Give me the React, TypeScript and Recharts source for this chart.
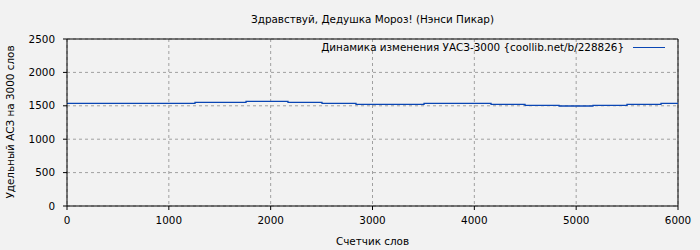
import { CartesianGrid, Line, LineChart, ReferenceLine, XAxis, YAxis } from "recharts";

// word counter positions where the value changes, and the value from there on
const wordCounts = [0, 1257, 1758, 2170, 2504, 2838, 3506, 4164, 4498, 4832, 5165, 5499, 5833, 6000];
const uaszValues = [1537, 1552, 1567, 1552, 1537, 1522, 1537, 1522, 1507, 1497, 1507, 1522, 1537, 1537];
const xTicks = [0, 1000, 2000, 3000, 4000, 5000, 6000];
const yTicks = [0, 500, 1000, 1500, 2000, 2500];

const title = "Здравствуй, Дедушка Мороз! (Нэнси Пикар)";
const xLabel = "Счетчик слов";
const yLabel = "Удельный АСЗ на 3000 слов";
const legendLabel = "Динамика изменения УАСЗ-3000 {coollib.net/b/228826}";

const LINE_COLOR = "#0a46b4";
const FONT = "'DejaVu Sans', sans-serif";
const FS = 10.4;

const data = wordCounts.map((w, i) => ({ words: w, value: uaszValues[i] }));

export default function App() {
  const tickStyle = { fontSize: FS, fill: "#000", fontFamily: FONT };
  return (
    <div
      style={{
        position: "absolute",
        left: 0,
        top: 0,
        width: 700,
        height: 250,
        background: "#f2f2f2",
        fontFamily: FONT,
        fontSize: FS,
        color: "#000"
      }}
    >
      <LineChart width={700} height={250} data={data} margin={{ top: 39, right: 22, bottom: 0, left: 27 }}>
        <CartesianGrid stroke="#a0a0a0" strokeDasharray="3 3" />
        <XAxis
          dataKey="words"
          type="number"
          domain={[0, 6000]}
          ticks={xTicks}
          height={44}
          stroke="#000"
          tickSize={4}
          tickMargin={7}
          tick={tickStyle}
          interval={0}
        />
        <YAxis
          type="number"
          domain={[0, 2500]}
          ticks={yTicks}
          width={40}
          stroke="#000"
          tickSize={4}
          tickMargin={8}
          tick={tickStyle}
          interval={0}
        />
        <ReferenceLine y={2500} stroke="#000" />
        <ReferenceLine x={6000} stroke="#000" />
        <Line
          type="stepAfter"
          dataKey="value"
          stroke={LINE_COLOR}
          strokeWidth={1.3}
          dot={false}
          isAnimationActive={false}
        />
      </LineChart>
      <div style={{ position: "absolute", left: 0, width: 745, top: 12, textAlign: "center", lineHeight: "14px" }}>
        {title}
      </div>
      <div style={{ position: "absolute", left: 0, width: 745, top: 234, textAlign: "center", lineHeight: "14px" }}>
        {xLabel}
      </div>
      <div
        style={{
          position: "absolute",
          left: 10,
          top: 122,
          whiteSpace: "nowrap",
          lineHeight: "14px",
          transform: "translate(-50%, -50%) rotate(-90deg)"
        }}
      >
        {yLabel}
      </div>
      <div
        style={{
          position: "absolute",
          right: 700 - 624,
          top: 40,
          lineHeight: "14px",
          whiteSpace: "nowrap"
        }}
      >
        {legendLabel}
      </div>
      <div style={{ position: "absolute", left: 633, top: 47, width: 32, height: 1, background: LINE_COLOR }} />
    </div>
  );
}
